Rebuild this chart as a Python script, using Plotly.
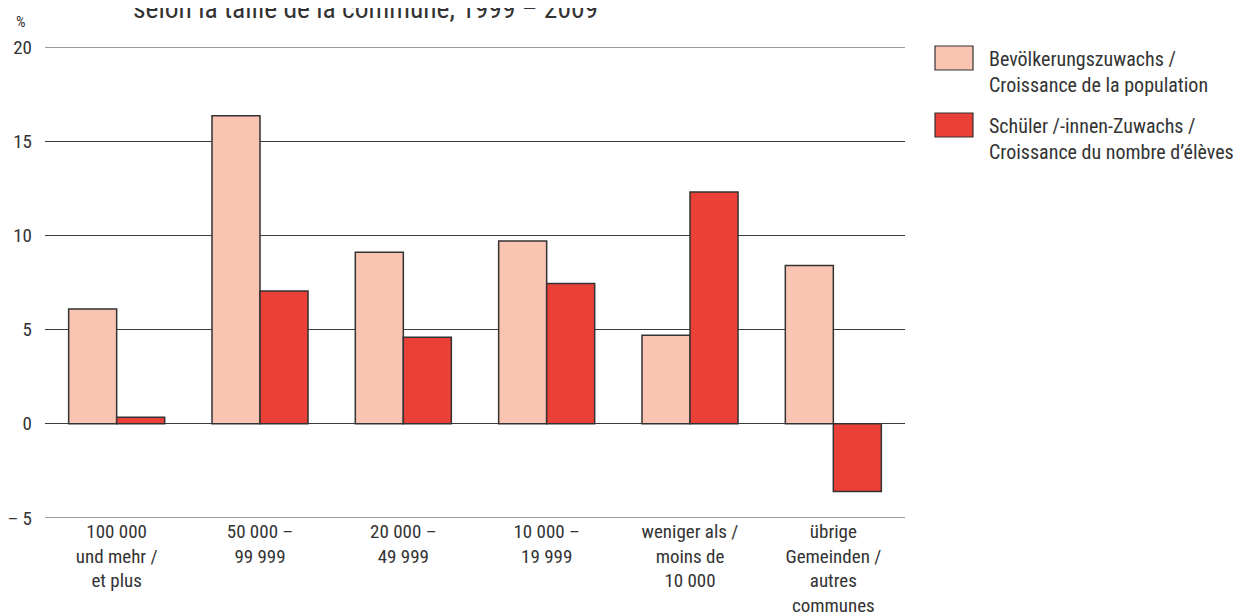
import plotly.graph_objects as go

categories = [
    "100 000<br>und mehr /<br>et plus",
    "50 000 –<br>99 999",
    "20 000 –<br>49 999",
    "10 000 –<br>19 999",
    "weniger als /<br>moins de<br>10 000",
    "übrige<br>Gemeinden /<br>autres<br>communes",
]
population_growth = [6.1, 16.35, 9.1, 9.7, 4.7, 8.4]
pupil_growth = [0.35, 7.05, 4.6, 7.45, 12.3, -3.6]
series_names = [
    "Bevölkerungszuwachs /<br>Croissance de la population",
    "Schüler /-innen-Zuwachs /<br>Croissance du nombre d’élèves",
]
series_colors = ["#F9C4B1", "#EA4037"]
y_tickvals = [-5, 0, 5, 10, 15, 20]
y_ticktext = ["– 5", "0", "5", "10", "15", "20"]
title_text = "selon la taille de la commune, 1999 – 2009"

FONT = "Roboto Condensed, Liberation Sans Narrow, Arial Narrow, Roboto, sans-serif"
OFF = 8  # browser default body margin
W, H = 1260 - OFF, 616 - OFF
# plot area in page pixels
PL, PR, PT, PB = 45, 905, 47, 518
L, R, T, B = PL - OFF, PR - OFF, PT - OFF, PB - OFF

fig = go.Figure()
for name, vals, col in zip(series_names, [population_growth, pupil_growth], series_colors):
    fig.add_trace(go.Bar(
        x=categories, y=vals, name=name,
        marker=dict(color=col, line=dict(color="#333333", width=1.5)),
        showlegend=False,
    ))

def px_to_paper_x(px):
    return (px - PL) / (PR - PL)

def px_to_paper_y(py):
    return (PB - py) / (PB - PT)

shapes = []
annotations = []
for yv in (y_tickvals[0], y_tickvals[-1]):
    shapes.append(dict(type="line", xref="paper", yref="y", x0=0, x1=1, y0=yv, y1=yv,
                       line=dict(color="#3a3a3a", width=1), layer="below"))

leg_tops = [46, 113]
for i, (name, col) in enumerate(zip(series_names, series_colors)):
    top = leg_tops[i]
    shapes.append(dict(
        type="rect", xref="paper", yref="paper",
        x0=px_to_paper_x(935), x1=px_to_paper_x(973),
        y0=px_to_paper_y(top + 24), y1=px_to_paper_y(top),
        fillcolor=col, line=dict(color="#333333", width=1.2),
    ))
    annotations.append(dict(
        xref="paper", yref="paper", x=px_to_paper_x(987), y=px_to_paper_y(top - 1),
        xanchor="left", yanchor="top", text=name, showarrow=False, align="left",
        font=dict(family=FONT, size=20, color="#333333"),
    ))

annotations.append(dict(
    xref="paper", yref="paper", x=px_to_paper_x(21), y=px_to_paper_y(22),
    xanchor="center", yanchor="middle", text="%", showarrow=False,
    font=dict(family=FONT, size=15, color="#333333"),
))
annotations.append(dict(
    xref="paper", yref="paper", x=px_to_paper_x(131), y=px_to_paper_y(27),
    xanchor="left", yanchor="bottom", text=title_text, showarrow=False,
    font=dict(family=FONT, size=27.5, color="#333333"),
))

fig.update_layout(
    width=W, height=H,
    margin=dict(l=L, r=W - R, t=T, b=H - B, pad=0),
    paper_bgcolor="white", plot_bgcolor="white",
    barmode="group", bargap=0.33, bargroupgap=0,
    font=dict(family=FONT, size=19, color="#333333"),
    shapes=shapes, annotations=annotations,
    xaxis=dict(showgrid=False, zeroline=False, showline=False, ticks="",
               tickfont=dict(size=19), fixedrange=True, automargin=False),
    yaxis=dict(range=[-5, 20], tickvals=y_tickvals, ticktext=y_ticktext,
               showgrid=True, gridcolor="#3a3a3a", gridwidth=1,
               zeroline=True, zerolinecolor="#3a3a3a", zerolinewidth=1,
               showline=False, ticks="", ticklabelstandoff=12, automargin=False,
               tickfont=dict(size=19)),
)

fig.write_html("out.html")
